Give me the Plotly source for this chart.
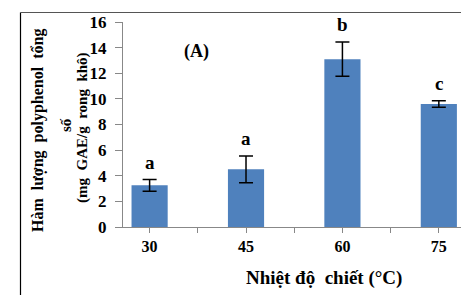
import plotly.graph_objects as go

categories = ["30", "45", "60", "75"]
values = [3.25, 4.5, 13.1, 9.6]
errors = [0.45, 1.05, 1.33, 0.26]
letters = ["a", "a", "b", "c"]
y_ticks = [0, 2, 4, 6, 8, 10, 12, 14, 16]

W, H = 461, 295
L, R, T, B = 123, 0, 22, 68
pw, ph = W - L - R, H - T - B

xpos = list(range(len(categories)))
serif = "Liberation Serif, Times New Roman, serif"

fig = go.Figure()
fig.add_trace(go.Bar(
    x=xpos, y=values,
    marker=dict(color="#4F81BD", line=dict(width=0)),
    width=0.375,
    error_y=dict(type="data", array=errors, visible=True,
                 color="black", thickness=1.5, width=7),
))

for x, v, e, t in zip(xpos, values, errors, letters):
    fig.add_annotation(x=x, y=v + e, text="<b>%s</b>" % t, showarrow=False,
                       xanchor="center", yanchor="bottom", yshift=5,
                       font=dict(family=serif, size=19, color="black"))

fig.add_annotation(x=0.49, y=13.7, text="<b>(A)</b>", showarrow=False,
                   xanchor="center", yanchor="middle",
                   font=dict(family=serif, size=18, color="black"))

# tick values: categories at integers, unlabeled ticks at boundaries
tickvals, ticktext = [], []
for i, c in enumerate(categories):
    tickvals.append(i); ticktext.append("<b>%s</b>" % c)
    tickvals.append(i + 0.5); ticktext.append("")

def px2paper_x(px):
    return (px - L) / pw

def px2paper_y(py):
    return (H - B - py) / ph

def paper_text(px, py, text, size, angle=0):
    fig.add_annotation(xref="paper", yref="paper", x=px2paper_x(px), y=px2paper_y(py),
                       text=text, textangle=angle, showarrow=False,
                       xanchor="center", yanchor="middle",
                       font=dict(family=serif, size=size, color="black"))

# y-axis title lines
paper_text(38, 131, "<b>Hàm  lượng  polyphenol  tổng</b>", 16, -90)
paper_text(66, 125, "<b>số</b>", 15, -90)
paper_text(82, 128, "<b>(mg  GAE/g  rong  khô)</b>", 15, -90)
# x-axis title
paper_text(324, 278, "<b>Nhiệt độ  chiết (°C)</b>", 19)

# outer frame lines
fig.add_shape(type="line", xref="paper", yref="paper",
              x0=px2paper_x(20.5), x1=px2paper_x(20.5), y0=px2paper_y(12.5), y1=px2paper_y(300),
              line=dict(color="black", width=1.2))
fig.add_shape(type="line", xref="paper", yref="paper",
              x0=px2paper_x(20.5), x1=px2paper_x(470), y0=px2paper_y(12.5), y1=px2paper_y(12.5),
              line=dict(color="#555", width=1.2))

fig.update_layout(
    width=W, height=H,
    margin=dict(l=L, r=R, t=T, b=B, pad=0, autoexpand=False),
    paper_bgcolor="white", plot_bgcolor="white",
    showlegend=False,
    xaxis=dict(range=[-0.276, 3.23], tickvals=tickvals, ticktext=ticktext,
               automargin=False,
               ticks="outside", ticklen=5, tickcolor="#888", showline=True,
               linecolor="#888", linewidth=1, showgrid=False, zeroline=False,
               tickfont=dict(family=serif, size=16, color="black", weight="bold")),
    yaxis=dict(range=[0, 16], tickvals=y_ticks, ticks="outside", ticklen=7,
               automargin=False, ticklabelstandoff=5,
               tickcolor="#888", showline=True, linecolor="#888", linewidth=1,
               showgrid=False, zeroline=False,
               tickfont=dict(family=serif, size=17, color="black", weight="bold")),
)

fig.write_html("out.html", config={"displayModeBar": False},
               post_script="document.body.style.margin='0';document.body.style.overflow='hidden';")
